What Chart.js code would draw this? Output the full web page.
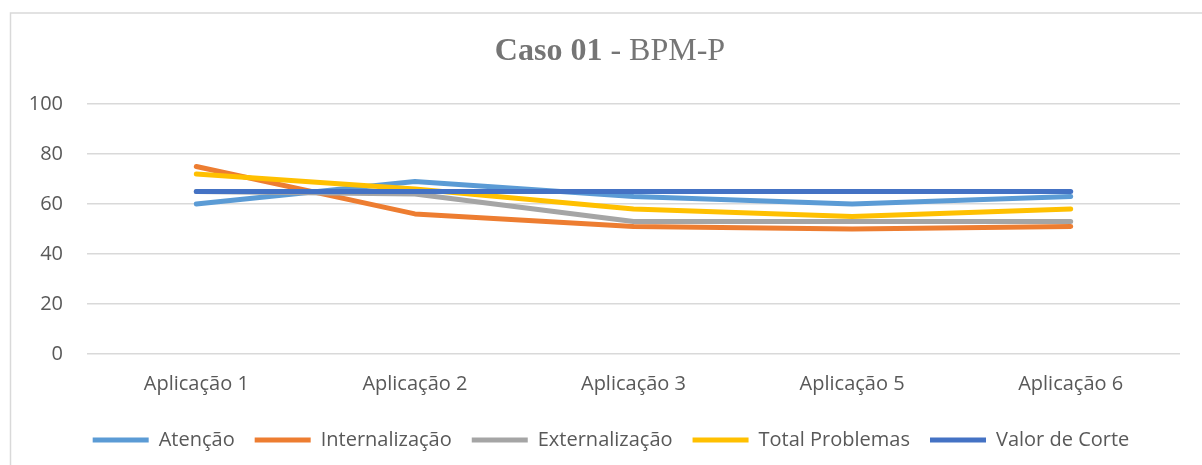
<!DOCTYPE html>
<html>
<head>
<meta charset="utf-8">
<script src="https://cdn.jsdelivr.net/npm/chart.js@4.4.0/dist/chart.umd.min.js"></script>
<style>
  html, body { margin: 0; padding: 0; background: #fff; }
  #wrap { width: 1202px; height: 465px; }
</style>
</head>
<body>
<div id="wrap"><canvas id="myChart" width="1202" height="465"></canvas></div>
<script>
// data
const categories = ['Aplicação 1', 'Aplicação 2', 'Aplicação 3', 'Aplicação 5', 'Aplicação 6'];
const atencao = [60, 69, 63, 60, 63];
const internalizacao = [75, 56, 51, 50, 51];
const externalizacao = [65, 64, 53, 53, 53];
const totalProblemas = [72, 66, 58, 55, 58];
const valorDeCorte = [65, 65, 65, 65, 65];
const yTicks = [0, 20, 40, 60, 80, 100];

const seriesNames = ['Atenção', 'Internalização', 'Externalização', 'Total Problemas', 'Valor de Corte'];
const seriesValues = [atencao, internalizacao, externalizacao, totalProblemas, valorDeCorte];
const seriesColors = ['#5B9BD5', '#ED7D31', '#A5A5A5', '#FFC000', '#4472C4'];

const textColor = '#595959';
const gridColor = '#D9D9D9';

// frame, two-part title (bold + regular), legend nudged to the right
const framePlugin = {
    id: 'frame',
    afterLayout(chart) {
        chart.legend.left += 21;
        chart.legend.right += 21;
    },
    beforeDraw(chart) {
        const c = chart.ctx;
        c.save();
        c.strokeStyle = '#D9D9D9';
        c.lineWidth = 1.5;
        c.beginPath();
        c.moveTo(10.5, 470);
        c.lineTo(10.5, 13);
        c.lineTo(1210, 13);
        c.stroke();
        c.restore();
    },
    afterDraw(chart) {
        const c = chart.ctx;
        const boldPart = 'Caso 01';
        const restPart = ' - BPM-P';
        c.save();
        c.fillStyle = '#757575';
        c.textBaseline = 'middle';
        c.font = 'bold 32px "Liberation Serif"';
        const w1 = c.measureText(boldPart).width;
        c.font = '32px "Liberation Serif"';
        const w2 = c.measureText(restPart).width;
        let x = 610 - (w1 + w2) / 2;
        c.textAlign = 'left';
        c.font = 'bold 32px "Liberation Serif"';
        c.fillText(boldPart, x, 52);
        c.font = '32px "Liberation Serif"';
        c.fillText(restPart, x + w1, 52);
        c.restore();
    }
};

const ctx = document.getElementById('myChart').getContext('2d');

const myChart = new Chart(ctx, {
    type: 'line',
    data: {
        labels: categories,
        datasets: seriesNames.map((name, i) => ({
            label: name,
            data: seriesValues[i],
            borderColor: seriesColors[i],
            backgroundColor: seriesColors[i],
            borderWidth: 5,
            pointRadius: 0,
            tension: 0,
            borderCapStyle: 'round',
            borderJoinStyle: 'round',
            order: seriesNames.length - i // last series on top
        }))
    },
    options: {
        responsive: false,
        animation: false,
        layout: {
            padding: { top: 104, left: 0, right: 22, bottom: 5 }
        },
        scales: {
            x: {
                offset: true,
                grid: { display: false },
                border: { display: false },
                ticks: { color: textColor, font: { family: 'Open Sans', size: 20 }, padding: 10 }
            },
            y: {
                min: 0,
                max: 100,
                afterBuildTicks: (s) => { s.ticks = yTicks.map(v => ({ value: v })); },
                afterFit: (s) => { s.width = 87; },
                grid: { color: gridColor, lineWidth: 1.5, drawTicks: false },
                border: { display: false },
                ticks: { color: textColor, font: { family: 'Open Sans', size: 20 }, padding: 24 }
            }
        },
        plugins: {
            title: { display: false },
            tooltip: { enabled: false },
            legend: {
                position: 'bottom',
                // blank title only used as spacer above the legend row
                title: { display: true, text: ' ', font: { size: 1 }, padding: { top: 0, bottom: 3 } },
                labels: {
                    color: textColor,
                    font: { family: 'Open Sans', size: 20 },
                    boxWidth: 56,
                    boxHeight: 5,
                    padding: 20,
                    generateLabels: (chart) => chart.data.datasets.map((d, i) => ({
                        text: d.label,
                        fillStyle: d.borderColor,
                        strokeStyle: d.borderColor,
                        lineWidth: 0,
                        fontColor: textColor,
                        datasetIndex: i
                    }))
                }
            }
        }
    },
    plugins: [framePlugin]
});
</script>
</body>
</html>
